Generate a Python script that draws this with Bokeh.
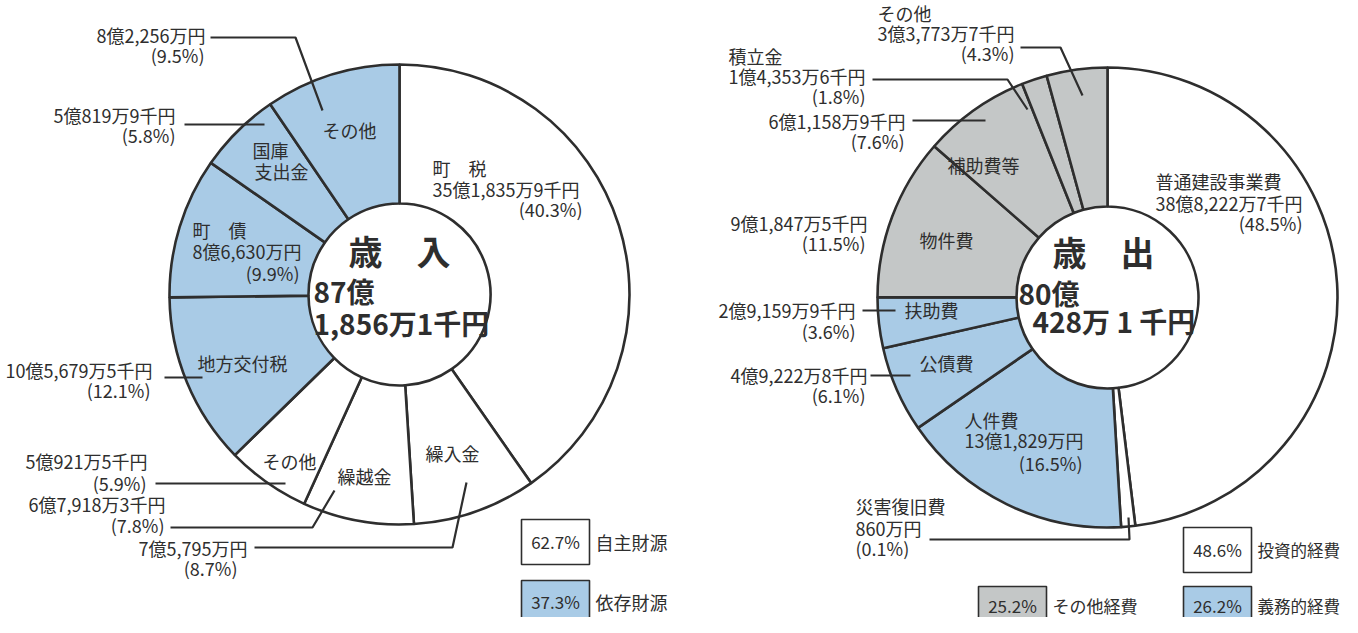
import numpy as np
from bokeh.plotting import figure
from bokeh.models import Range1d
from bokeh.core.properties import value
from bokeh.embed import file_html
from bokeh.resources import INLINE

# ---------------- data : 歳入 (revenue) ----------------
rev_names = ["町　税", "繰入金", "繰越金", "その他", "地方交付税", "町　債", "国庫\n支出金", "その他"]
rev_amounts = ["35億1,835万9千円", "7億5,795万円", "6億7,918万3千円", "5億921万5千円",
               "10億5,679万5千円", "8億6,630万円", "5億819万9千円", "8億2,256万円"]
rev_pct = [40.3, 8.7, 7.8, 5.9, 12.1, 9.9, 5.8, 9.5]
rev_group = ["自主財源", "自主財源", "自主財源", "自主財源", "依存財源", "依存財源", "依存財源", "依存財源"]
rev_title = "歳　入"
rev_total = ["87億", "1,856万1千円"]
rev_groups = ["自主財源", "依存財源"]

# ---------------- data : 歳出 (expenditure) ----------------
exp_names = ["普通建設事業費", "災害復旧費", "人件費", "公債費", "扶助費", "物件費", "補助費等", "積立金", "その他"]
exp_amounts = ["38億8,222万7千円", "860万円", "13億1,829万円", "4億9,222万8千円", "2億9,159万9千円",
               "9億1,847万5千円", "6億1,158万9千円", "1億4,353万6千円", "3億3,773万7千円"]
exp_pct = [48.5, 0.1, 16.5, 6.1, 3.6, 11.5, 7.6, 1.8, 4.3]
exp_group = ["投資的経費", "投資的経費", "義務的経費", "義務的経費", "義務的経費",
             "その他経費", "その他経費", "その他経費", "その他経費"]
exp_title = "歳　出"
exp_total = ["80億", "428万 1 千円"]
exp_groups = ["投資的経費", "義務的経費", "その他経費"]

# ---------------- styles ----------------
WHITE, BLUE, GRAY = "#ffffff", "#a9cbe6", "#c4c7c7"
group_color = {"自主財源": WHITE, "依存財源": BLUE,
               "投資的経費": WHITE, "義務的経費": BLUE, "その他経費": GRAY}
INK = "#2e2e2e"
FONT = value("Noto Sans CJK JP")
W, H = 1358, 633
LBL = 18

p = figure(width=1342, height=617, output_backend="svg", toolbar_location=None,
           x_range=Range1d(8, 1350), y_range=Range1d(H - 625, H - 8),
           min_border=0, border_fill_color="white", background_fill_color="white")
p.axis.visible = False
p.grid.visible = False
p.outline_line_color = None


def Y(y):
    return H - y


def txt(x, y, s, size=LBL, align="left", bold=False):
    p.text(x=[x], y=[Y(y)], text=[s], text_font=FONT, text_font_size=value(f"{size}px"),
           text_align=align, text_baseline="middle", text_color=INK,
           text_font_style="bold" if bold else "normal")


def line(pts):
    p.line(x=[a for a, b in pts], y=[Y(b) for a, b in pts], line_color=INK, line_width=2.2)


def donut(cx, cy, r_in, r_out, pct, groups):
    share = np.maximum(np.array(pct, dtype=float), 1.0)   # keep tiny slices visible
    share = share / share.sum()
    c1 = np.cumsum(share)
    c0 = c1 - share
    p.annular_wedge(x=cx, y=Y(cy), inner_radius=r_in, outer_radius=r_out,
                    start_angle=np.pi / 2 - 2 * np.pi * c0, end_angle=np.pi / 2 - 2 * np.pi * c1,
                    direction="clock", fill_color=[group_color[g] for g in groups],
                    line_color=INK, line_width=2.6)


# ---------------- layout (screen px) ----------------
rev_layout = [
    dict(name=(440, 175, "left"), amt=(440, 196, "left"), pct=(590, 216, "right"), lead=None),
    dict(name=(433, 460, "left"), amt=(255, 555, "right"), pct=(245, 575, "right"),
         lead=[(262, 555), (460, 555), (474, 490)]),
    dict(name=(345, 483, "left"), amt=(173, 511, "right"), pct=(172, 532, "right"),
         lead=[(178, 535), (320, 535), (342, 498)]),
    dict(name=(270, 468, "left"), amt=(155, 468, "right"), pct=(154, 490, "right"),
         lead=[(163, 491), (293, 491)]),
    dict(name=(205, 370, "left"), amt=(160, 377, "right"), pct=(158, 397, "right"),
         lead=[(172, 385), (210, 385)]),
    dict(name=(200, 237, "left"), amt=(200, 258, "left"), pct=(307, 280, "right"), lead=None),
    dict(name=(260, 157, "left"), amt=(183, 122, "right"), pct=(183, 142, "right"),
         lead=[(192, 132), (272, 132)]),
    dict(name=(330, 137, "left"), amt=(213, 42, "right"), pct=(212, 62, "right"),
         lead=[(218, 45), (303, 45), (330, 118)]),
]
exp_layout = [
    dict(name=(1163, 188, "left"), amt=(1163, 210, "left"), pct=(1310, 230, "right"), lead=None),
    dict(name=(863, 513, "left"), amt=(863, 535, "left"), pct=(863, 555, "left"),
         lead=[(937, 547), (1137, 547), (1136, 525)]),
    dict(name=(972, 427, "left"), amt=(972, 447, "left"), pct=(1090, 470, "right"), lead=None),
    dict(name=(927, 370, "left"), amt=(875, 382, "right"), pct=(873, 402, "right"),
         lead=[(878, 383), (918, 383)]),
    dict(name=(912, 317, "left"), amt=(863, 317, "right"), pct=(863, 338, "right"),
         lead=[(870, 318), (903, 318)]),
    dict(name=(927, 247, "left"), amt=(875, 230, "right"), pct=(873, 250, "right"), lead=None),
    dict(name=(955, 172, "left"), amt=(913, 128, "right"), pct=(912, 148, "right"),
         lead=[(920, 128), (993, 128)]),
    dict(name=(736, 63, "left"), amt=(736, 83, "left"), pct=(873, 103, "right"),
         lead=[(880, 87), (1015, 87), (1035, 117)]),
    dict(name=(885, 20, "left"), amt=(885, 40, "left"), pct=(1022, 60, "right"),
         lead=[(1028, 55), (1068, 55), (1090, 103)]),
]


def draw_chart(cx, cy, names, amounts, pct, groups, layout, title, total, title_pos, total_pos):
    donut(cx, cy, 91, 230, pct, groups)
    for nm, am, pc, lay in zip(names, amounts, pct, layout):
        if lay["lead"]:
            line(lay["lead"])
        x, y, a = lay["name"]
        for k, part in enumerate(nm.split("\n")):
            txt(x + 2 * k, y + 21 * k, part, LBL, a)
        x, y, a = lay["amt"]
        txt(x, y, am, LBL, a)
        x, y, a = lay["pct"]
        txt(x, y, f"({pc}%)", LBL, a)
    txt(title_pos[0], title_pos[1], title, 34, "center", True)
    (x1, y1), (x2, y2) = total_pos
    txt(x1, y1, total[0], 28, "left", True)
    txt(x2, y2, total[1], 28, "left", True)


draw_chart(407, 302, rev_names, rev_amounts, rev_pct, rev_group, rev_layout,
           rev_title, rev_total, (407, 258), [(321, 298), (321, 330)])
draw_chart(1115, 305, exp_names, exp_amounts, exp_pct, exp_group, exp_layout,
           exp_title, exp_total, (1111, 259), [(1026, 300), (1040, 328)])


# ---------------- legends ----------------
def legend_box(x0, y0, grp, pct, groups, ty, size):
    total = sum(v for v, g in zip(pct, groups) if g == grp)
    p.quad(left=x0, right=x0 + 68, top=Y(y0), bottom=Y(y0 + 45), fill_color=group_color[grp],
           line_color=INK, line_width=1.6)
    txt(x0 + 34, ty, f"{total:.1f}%", 17, "center")
    txt(x0 + 74, ty, grp, size, "left")


legend_box(529, 527, rev_groups[0], rev_pct, rev_group, 549, 18)
legend_box(529, 588, rev_groups[1], rev_pct, rev_group, 609, 18)
legend_box(1191, 535, exp_groups[0], exp_pct, exp_group, 557, 16.5)
legend_box(1191, 594, exp_groups[1], exp_pct, exp_group, 613, 16.5)
legend_box(986, 594, exp_groups[2], exp_pct, exp_group, 613, 17)

open("out.html", "w").write(file_html(p, INLINE))
